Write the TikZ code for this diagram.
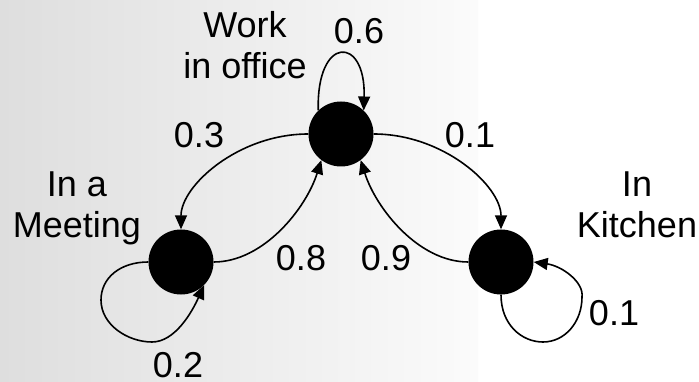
\documentclass[tikz,border=0pt]{standalone}
\usepackage{fontspec}
\setmainfont{Liberation Sans}
\usetikzlibrary{arrows.meta}
\definecolor{bgleft}{RGB}{222,222,222}
\definecolor{bgright}{RGB}{251,251,251}
\tikzset{
  statenode/.style={circle, fill=black, draw=none, minimum size=65pt, inner sep=0pt},
  lbl/.style={font=\fontsize{36}{41}\selectfont, anchor=base, inner sep=0pt, align=center},
  conn/.style={line width=1.6pt, -{Triangle[length=14pt,width=12pt]}}
}
\begin{document}
\begin{tikzpicture}[x=1pt,y=-1pt]
\useasboundingbox (0,0) rectangle (699,382);
\fill[white] (0,0) rectangle (699,382);
\shade[left color=bgleft, right color=bgright] (0,0) rectangle (478,382);
% states
\node[statenode] (W) at (341,134) {};
\node[statenode] (M) at (181,262) {};
\node[statenode] (K) at (501,262) {};
% state labels (anchor at baseline of last line)
\node[lbl] (tW) at (245,79) {Work\\in office};
\node[lbl] (tM) at (77,238) {In a\\Meeting};
\node[lbl] (tK) at (637,238) {In\\Kitchen};
% transitions
\draw[conn] (W.west) .. controls (238,134) and (181,186) .. (M.north);
\draw[conn] (M.east) .. controls (263.5,262) and (306,208.5) .. (W.233);
\draw[conn] (W.east) .. controls (443.5,134) and (501,186) .. (K.north);
\draw[conn] (K.west) .. controls (418.5,262) and (376,208.5) .. (W.-53);
\draw[conn] (W.134) .. controls (316,35) and (366,35) .. (W.46);
\draw[conn] (M.west) .. controls (120,262) and (101,278) .. (101,300)
  .. controls (101,325) and (128,342) .. (152,342)
  .. controls (175,342) and (192,312) .. (M.-45);
\draw[conn] (K.south) .. controls (501,325) and (522,342) .. (543,342)
  .. controls (565,342) and (582,322) .. (582,297)
  .. controls (584,282) and (562,266) .. (K.east);
% probabilities
\node[lbl] (p6) at (359,44) {0.6};
\node[lbl] (p3) at (199,148) {0.3};
\node[lbl] (p1a) at (470,148) {0.1};
\node[lbl] (p8) at (301,270) {0.8};
\node[lbl] (p9) at (386,270) {0.9};
\node[lbl] (p1b) at (614,325) {0.1};
\node[lbl] (p2) at (178,377) {0.2};
\end{tikzpicture}
\end{document}
